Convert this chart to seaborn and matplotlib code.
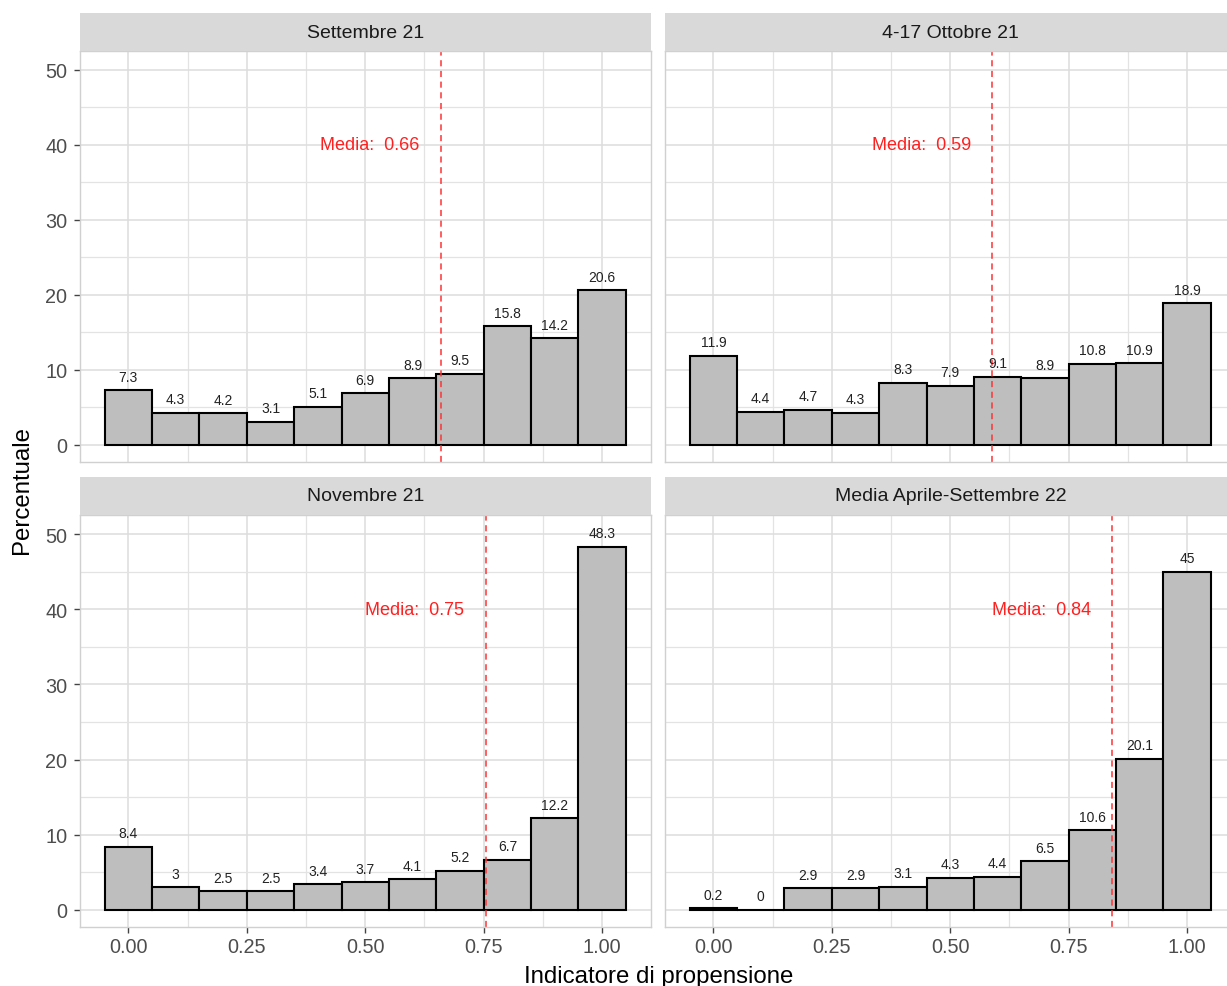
import numpy as np
import pandas as pd
import matplotlib
matplotlib.use("Agg")
import matplotlib.pyplot as plt
import seaborn as sns

# data
centers = [0.0, 0.1, 0.2, 0.3, 0.4, 0.5, 0.6, 0.7, 0.8, 0.9, 1.0]
periods = ["Settembre 21", "4-17 Ottobre 21", "Novembre 21", "Media Aprile-Settembre 22"]
set21 = [7.3, 4.3, 4.2, 3.1, 5.1, 6.9, 8.9, 9.5, 15.8, 14.2, 20.6]
ott21 = [11.9, 4.4, 4.7, 4.3, 8.3, 7.9, 9.1, 8.9, 10.8, 10.9, 18.9]
nov21 = [8.4, 3.0, 2.5, 2.5, 3.4, 3.7, 4.1, 5.2, 6.7, 12.2, 48.3]
apr_set22 = [0.2, 0.0, 2.9, 2.9, 3.1, 4.3, 4.4, 6.5, 10.6, 20.1, 45.0]
means = [0.66, 0.589, 0.754, 0.842]
xticks = [0.0, 0.25, 0.5, 0.75, 1.0]
yticks = [0, 10, 20, 30, 40, 50]

series = [set21, ott21, nov21, apr_set22]
df = pd.concat([pd.DataFrame({"periodo": p, "x": centers, "perc": s})
                for p, s in zip(periods, series)], ignore_index=True)

sns.set_theme(style="white")
plt.rcParams["font.family"] = ["Liberation Sans", "DejaVu Sans"]

W, H = 1227, 987
fig = plt.figure(figsize=(W / 100, H / 100), dpi=100)


def rect(x0, y0, x1, y1):
    return [x0 / W, 1 - y1 / H, (x1 - x0) / W, (y1 - y0) / H]


cols = [(80, 651), (665, 1236)]
rows = [(14, 52, 463), (478, 516, 928)]

for i, p in enumerate(periods):
    r, c = divmod(i, 2)
    x0, x1 = cols[c]
    s0, p0, p1 = rows[r]
    ax = fig.add_axes(rect(x0, p0, x1, p1))
    sub = df[df["periodo"] == p].reset_index(drop=True)

    ax.set_ylim(-2.27, 52.53)
    ax.set_yticks(yticks)
    ax.set_yticks([5, 15, 25, 35, 45], minor=True)
    ax.grid(True, which="major", color="#DDDDDD", lw=1.1)
    ax.grid(True, which="minor", color="#E3E3E3", lw=0.9)
    ax.set_axisbelow(True)

    sns.barplot(data=sub, x="x", y="perc", native_scale=True, width=1, ax=ax,
                color="#BEBEBE", edgecolor="black", linewidth=1.5, saturation=1,
                errorbar=None)
    for xv, v in zip(sub["x"], sub["perc"]):
        ax.text(xv, v + 1.8, f"{v:g}", ha="center", va="center", fontsize=10,
                color="#222222")

    ax.axvline(means[i], color="#FF3333", ls=(0, (4, 3)), lw=1.1)
    ax.text(means[i] - 0.15, 40, f"Media:  {means[i]:.2f}", color="#FF2020",
            ha="center", va="center", fontsize=13)

    ax.set_xlim(-0.102, 1.103)
    ax.set_xticks(xticks)
    ax.set_xticks([0.125, 0.375, 0.625, 0.875], minor=True)
    ax.set_xlabel("")
    ax.set_ylabel("")
    for sp in ax.spines.values():
        sp.set_color("#D0D0D0")
        sp.set_linewidth(1)
    ax.tick_params(which="major", length=4, width=1, color="#444444",
                   labelsize=14.3, labelcolor="#4D4D4D")
    ax.tick_params(axis="x", pad=3)
    ax.tick_params(axis="y", pad=5)
    ax.tick_params(which="minor", length=0)
    ax.tick_params(axis="x", bottom=(r == 1), labelbottom=(r == 1))
    ax.tick_params(axis="y", left=(c == 0), labelleft=(c == 0))
    ax.set_xticklabels([f"{t:.2f}" for t in xticks])

    sax = fig.add_axes(rect(x0, s0, x1, p0))
    sax.set_facecolor("#D9D9D9")
    sax.set_xticks([])
    sax.set_yticks([])
    for sp in sax.spines.values():
        sp.set_visible(False)
    sax.text((651 - 80) / 2 / (x1 - x0), 0.5, p, ha="center", va="center",
             fontsize=14, color="#1A1A1A", transform=sax.transAxes)

fig.text(22 / W, 1 - 490 / H, "Percentuale", rotation=90, ha="center", va="center",
         fontsize=17.3, color="black")
fig.text(659 / W, 1 - 983 / H, "Indicatore di propensione", ha="center", va="baseline",
         fontsize=17.3, color="black")

fig.savefig("out.png", dpi=100)
